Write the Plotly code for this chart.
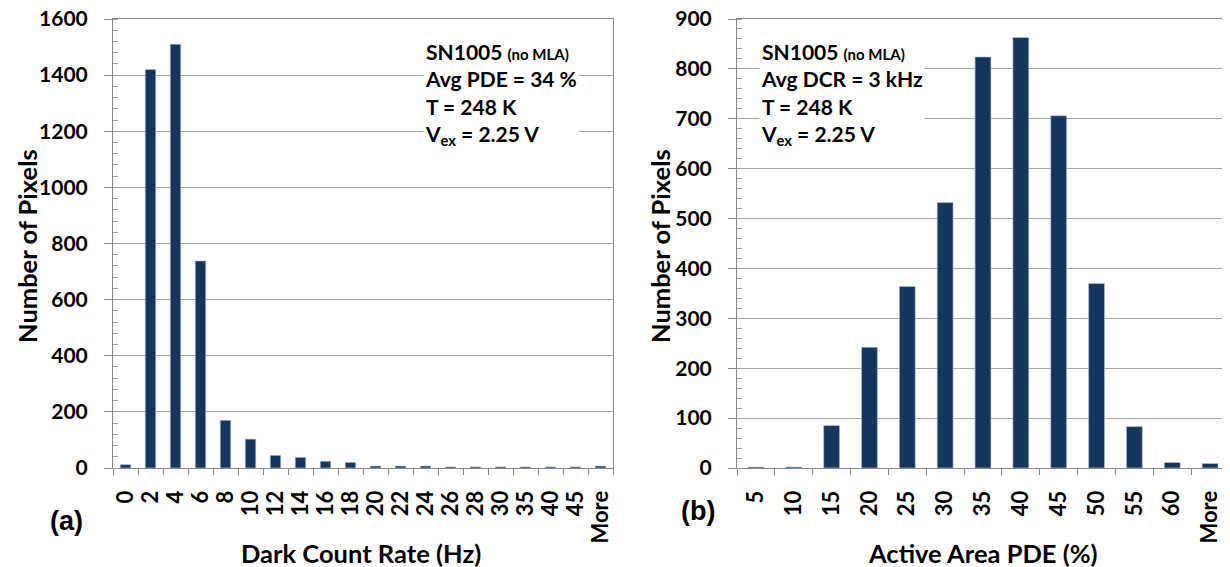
import plotly.graph_objects as go

dcr_labels = ["0","2","4","6","8","10","12","14","16","18","20","22","24","26","28","30","35","40","45","More"]
dcr_counts = [12,1420,1510,738,170,103,45,38,24,20,7,7,7,4,4,4,4,4,4,7]

pde_labels = ["5","10","15","20","25","30","35","40","45","50","55","60","More"]
pde_counts = [2,2,85,242,364,532,824,863,706,370,83,11,9]

BAR = "#17365d"
FONT = "Lato"
GRID = "#a6a6a6"
AX = "#868686"

# page has an 8px body margin: work in reference pixel coords and shift
O = 8
W, H = 1230 - O, 567 - O
ml, mr, mt = 113 - O, 1, 19 - O
mb = H - (468 - O)
pw = W - ml - mr
ph = H - mt - mb

def px(x):
    return (x - O - ml) / pw

def py(y):
    return 1 - (y - O - mt) / ph

fig = go.Figure()
fig.add_trace(go.Bar(x=dcr_labels, y=dcr_counts,
                     marker=dict(color=BAR, line=dict(color="#b8c6d9", width=0.6)),
                     xaxis="x", yaxis="y", showlegend=False))
fig.add_trace(go.Bar(x=pde_labels, y=pde_counts,
                     marker=dict(color=BAR, line=dict(color="#b8c6d9", width=0.6)),
                     xaxis="x2", yaxis="y2", showlegend=False))

xcommon = dict(type="category", tickson="boundaries", ticks="outside", ticklen=6, tickcolor=AX,
               showline=True, linecolor=AX, linewidth=1, mirror=True, tickangle=-90,
               tick0=0, dtick=1, ticklabelstandoff=13, ticklabeloverflow="allow",
               tickfont=dict(family=FONT, size=22, color="black", weight="bold"), showgrid=False)
ycommon = dict(ticks="outside", ticklen=8, tickcolor=AX, showline=True, linecolor=AX,
               linewidth=1, mirror=True, showgrid=True, gridcolor=GRID, gridwidth=1,
               ticklabelstandoff=12, ticklabeloverflow="allow",
               tickfont=dict(family=FONT, size=21, color="black", weight="bold"), zeroline=False)

fig.update_layout(
    width=W, height=H, margin=dict(l=ml, r=mr, t=mt, b=mb, autoexpand=False),
    plot_bgcolor="white", paper_bgcolor="white", bargap=0.58,
    xaxis=dict(domain=[0, px(613)], anchor="y", **xcommon),
    yaxis=dict(domain=[0, 1], range=[0, 1600], dtick=200, anchor="x",
               minor=dict(dtick=40, ticks="inside", ticklen=5, tickcolor="#a0a0a0", showgrid=False), **ycommon),
    xaxis2=dict(domain=[px(737), 1], anchor="y2", **xcommon),
    yaxis2=dict(domain=[0, 1], range=[0, 900], dtick=100, anchor="x2",
                minor=dict(dtick=20, ticks="inside", ticklen=5, tickcolor="#a0a0a0", showgrid=False), **ycommon),
)

def ann(x, y, text, size, angle=0, xanchor="center", yanchor="middle", bg=None, align="center", family=FONT):
    fig.add_annotation(x=px(x), y=py(y), xref="paper", yref="paper",
                       text=text, showarrow=False, textangle=angle, xanchor=xanchor, yanchor=yanchor,
                       font=dict(family=family, size=size, color="black", weight="bold"),
                       bgcolor=bg, align=align)

ann(27, 246, "Number of Pixels", 25.5, angle=-90)
ann(660, 246, "Number of Pixels", 25.5, angle=-90)
ann(361, 553, "Dark Count Rate (Hz)", 25.5)
ann(983, 553, "Active Area PDE (%)", 25.5)
ann(66, 521, "(a)", 27, family="Liberation Sans")
ann(698, 511, "(b)", 27, family="Liberation Sans")

left_text = ("SN1005 <span style='font-size:15px'>(no MLA)</span><br>Avg PDE = 34 %<br>T = 248 K<br>"
             "V<sub>ex</sub> = 2.25 V")
right_text = ("SN1005 <span style='font-size:15px'>(no MLA)</span><br>Avg DCR = 3 kHz<br>T = 248 K<br>"
              "V<sub>ex</sub> = 2.25 V")
ann(423, 37, left_text, 21, xanchor="left", yanchor="top", bg="white", align="left")
ann(759, 37, right_text, 21, xanchor="left", yanchor="top", bg="white", align="left")

fig.write_html("out.html")
